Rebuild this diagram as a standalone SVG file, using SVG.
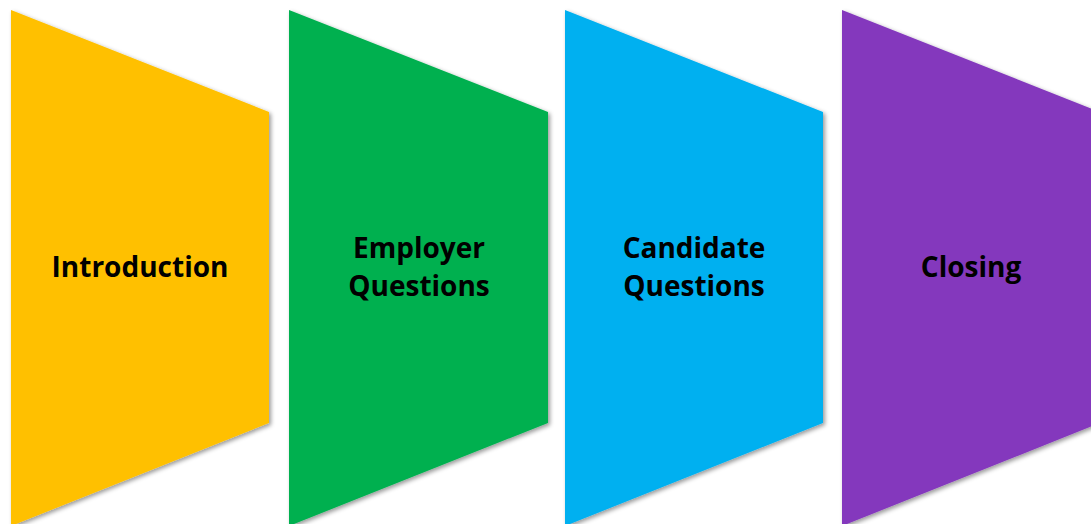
<svg xmlns="http://www.w3.org/2000/svg" width="1091" height="524" viewBox="0 0 1091 524">
<defs>
<filter id="sh" x="-10%" y="-10%" width="130%" height="130%">
<feDropShadow dx="2" dy="2" stdDeviation="2" flood-color="#000" flood-opacity="0.4"/>
</filter>
</defs>
<style>
.t{font-family:"Open Sans","Liberation Sans",sans-serif;font-weight:bold;font-size:28px;fill:#000;text-anchor:middle}
</style>
<rect width="1091" height="524" fill="#fff"/>
<g id="introduction">
<polygon points="11,10 269,112 269,423 11,526" fill="#FFC000" filter="url(#sh)"/>
<text class="t" x="140" y="277">Introduction</text>
</g>
<g id="employer-questions">
<polygon points="289,10 548,112 548,423 289,526" fill="#00B050" filter="url(#sh)"/>
<text class="t" x="419" y="258">Employer</text>
<text class="t" x="419" y="296">Questions</text>
</g>
<g id="candidate-questions">
<polygon points="565,10 823,112 823,423 565,526" fill="#00B0F0" filter="url(#sh)"/>
<text class="t" x="694" y="258">Candidate</text>
<text class="t" x="694" y="296">Questions</text>
</g>
<g id="closing">
<polygon points="842,10 1100,112 1100,423 842,526" fill="#8439BD" filter="url(#sh)"/>
<text class="t" x="971" y="277">Closing</text>
</g>
<g id="connectors"/>
</svg>
